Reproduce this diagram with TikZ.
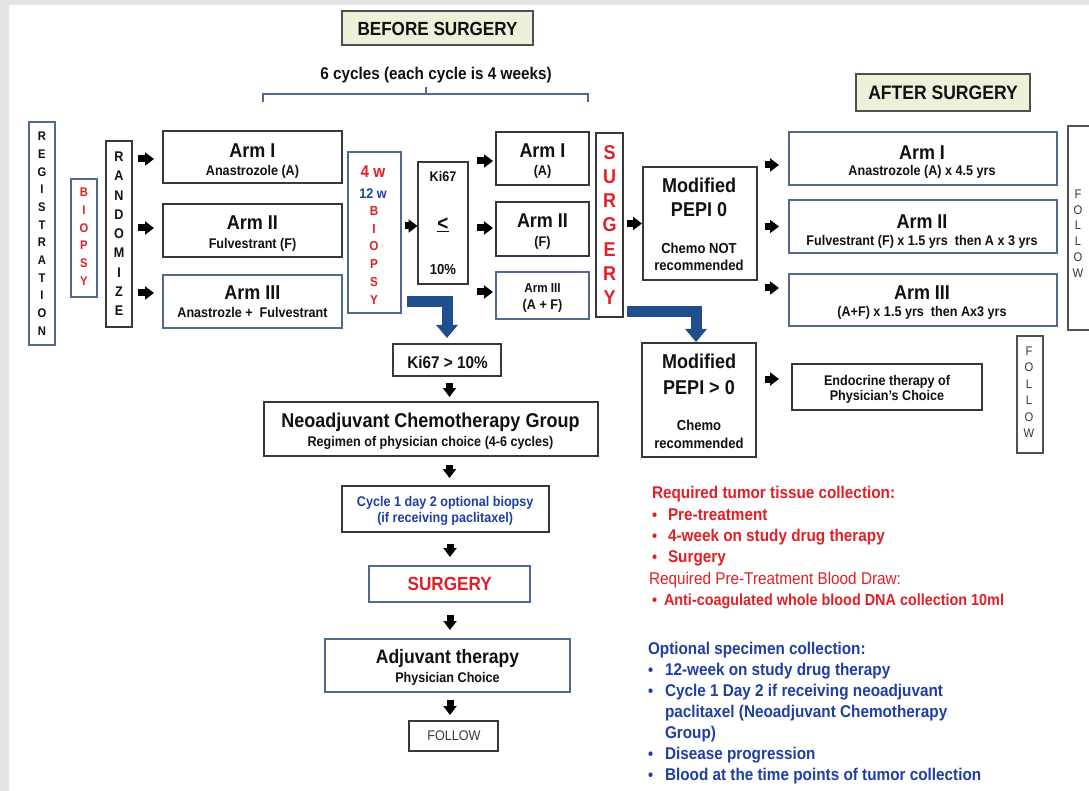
\documentclass[tikz,border=0pt]{standalone}
\usepackage{fontspec}
\setmainfont[FakeStretch=0.9]{Liberation Sans}
\usetikzlibrary{arrows.meta}
\definecolor{bkc}{HTML}{383838}
\definecolor{blc}{HTML}{52698F}
\definecolor{hdf}{HTML}{EEF0DA}
\definecolor{hdb}{HTML}{505050}
\definecolor{rd}{HTML}{E21F26}
\definecolor{bu}{HTML}{1F3FA3}
\definecolor{arb}{HTML}{1F4E8C}
\definecolor{gbg}{HTML}{E4E4E4}
\definecolor{tk}{HTML}{111111}
\newcommand\fsz[2]{\fontsize{#1}{#2}\selectfont}
\tikzset{
 bx/.style={draw=bkc, line width=1.4pt, inner sep=0pt, outer sep=0pt},
 bb/.style={bx, draw=blc},
 hd/.style={bx, draw=hdb, fill=hdf},
 tl/.style={inner sep=0pt, outer sep=0pt, anchor=base, text=tk},
 vs/.style={inner sep=0pt, outer sep=0pt, align=center, text=tk},
 ar/.style={draw=black, line width=7pt, -{Triangle[width=13pt,length=9pt]}},
 bigar/.style={draw=arb, line width=11pt, line join=miter, -{Triangle[width=21pt,length=13pt]}},
}
% centred line: name, x, baseline y, size, text, options
\newcommand\tline[6]{\node[tl,font=\bfseries\fsz{#4}{#4},#6] (#1) at (#2,#3) {#5};}
% left aligned line
\newcommand\tleft[6]{\node[tl,anchor=base west,font=\bfseries\fsz{#4}{#4},#6] (#1) at (#2,#3) {#5};}
\begin{document}
\begin{tikzpicture}[x=1pt,y=-1pt]
\fill[gbg] (0,0) rectangle (1089,791);
\fill[white] (9,5) rectangle (1089,791);
\useasboundingbox (0,0) rectangle (1089,791);

% headers
\node[hd, minimum width=191pt, minimum height=34pt] (hb) at (437.5,28) {};
\node[hd, minimum width=174pt, minimum height=37pt] (ha) at (943,92.5) {};
\tline{t1}{437.5}{35.5}{19}{BEFORE SURGERY}{}
\tline{t2}{943}{99.5}{19.5}{AFTER SURGERY}{}
\tline{t3}{436}{80}{17}{6 cycles (each cycle is 4 weeks)}{}
\draw[blc, line width=1.2pt] (263,102) -- (263,94) -- (588,94) -- (588,102);
\draw[blc, line width=1.2pt] (426,94) -- (426,87);

% boxes
\node[bb, minimum width=26pt, minimum height=223pt] (reg) at (42,233.5) {};
\node[bb, minimum width=26pt, minimum height=118pt] (bio) at (84,238) {};
\node[bx, minimum width=26pt, minimum height=186pt] (rnd) at (119,234) {};
\node[bx, minimum width=179pt, minimum height=52pt] (la) at (252.5,157) {};
\node[bx, minimum width=179pt, minimum height=53pt] (lb) at (252.5,230.5) {};
\node[bb, minimum width=179pt, minimum height=53pt] (lc) at (252.5,301.5) {};
\node[bb, minimum width=53pt, minimum height=161pt] (w4) at (374.5,232.5) {};
\node[bx, minimum width=50pt, minimum height=122pt] (ki) at (443,223) {};
\node[bx, minimum width=93pt, minimum height=53pt] (ma) at (542.5,158.5) {};
\node[bx, minimum width=93pt, minimum height=54pt] (mb) at (542.5,229) {};
\node[bb, minimum width=93pt, minimum height=47pt] (mc) at (542.5,295.5) {};
\node[bx, minimum width=27pt, minimum height=184pt] (sv) at (609.5,225) {};
\node[bx, minimum width=114pt, minimum height=113pt] (p0) at (700,223.5) {};
\node[bb, minimum width=268pt, minimum height=53pt] (ra) at (923,158.5) {};
\node[bb, minimum width=268pt, minimum height=53pt] (rb) at (923,226.5) {};
\node[bb, minimum width=268pt, minimum height=52pt] (rc) at (923,300) {};
\node[bx, draw=hdb, minimum width=26pt, minimum height=204pt] (fa) at (1081,228) {};
\node[bx, draw=hdb, minimum width=26pt, minimum height=117pt] (fb) at (1030,394.5) {};
\node[bx, minimum width=190pt, minimum height=46pt] (en) at (887,387) {};
\node[bx, minimum width=114pt, minimum height=114pt] (pg) at (699,400) {};
\node[bx, minimum width=108pt, minimum height=32pt] (kg) at (447,360) {};
\node[bx, minimum width=334pt, minimum height=54pt] (neo) at (431,429) {};
\node[bx, minimum width=207pt, minimum height=46pt] (cy) at (445.5,509) {};
\node[bb, minimum width=161pt, minimum height=36pt] (sb) at (449.5,584) {};
\node[bb, minimum width=245pt, minimum height=53pt] (adj) at (447.5,665.5) {};
\node[bx, minimum width=89pt, minimum height=30pt] (fo) at (453.5,736) {};

% vertical letter stacks
\node[vs, font=\bfseries\fsz{12.5}{17.65}] (t33) at (42,233.7) {R\\E\\G\\I\\S\\T\\R\\A\\T\\I\\O\\N};
\node[vs, text=rd, font=\bfseries\fsz{12.5}{17.7}] (t34) at (84,236.7) {B\\I\\O\\P\\S\\Y};
\node[vs, font=\bfseries\fsz{14}{19.25}] (t35) at (119,233.8) {R\\A\\N\\D\\O\\M\\I\\Z\\E};
\node[vs, text=rd, font=\bfseries\fsz{13}{17.7}] (t12) at (374,255.3) {B\\I\\O\\P\\S\\Y};
\node[vs, text=rd, font=\bfseries\fsz{20}{24.2}] (t22) at (609.5,224.9) {S\\U\\R\\G\\E\\R\\Y};
\node[vs, text=bkc, font=\fsz{12.5}{15.8}] (t36) at (1078,233.5) {F\\O\\L\\L\\O\\W};
\node[vs, text=bkc, font=\fsz{12.5}{16.5}] (t37) at (1029,392) {F\\O\\L\\L\\O\\W};

% left arms
\tline{t4}{252.5}{157.3}{20}{Arm I}{}
\tline{t5}{252.5}{175.3}{14}{Anastrozole (A)}{}
\tline{t6}{252.5}{229.9}{20}{Arm II}{}
\tline{t7}{252.5}{249}{14}{Fulvestrant (F)}{}
\tline{t8}{252.5}{299.9}{20}{Arm III}{}
\tline{t9}{252.5}{317.8}{14}{Anastrozle +\ \ Fulvestrant}{}
% 4w / 12w
\tline{t10}{373}{178}{17}{4 w}{text=rd}
\tline{t11}{373}{198.7}{14}{12 w}{text=bu}
% Ki67 <=
\tline{t13}{443}{181.7}{14}{Ki67}{}
\node[inner sep=0pt, text=tk, font=\bfseries\fsz{21}{21}] (t14) at (443,225) {\underline{<}};
\tline{t15}{443}{275}{14.5}{10\%}{}
% middle arms
\tline{t16}{542.5}{157.5}{20}{Arm I}{}
\tline{t17}{542.5}{176}{14}{(A)}{}
\tline{t18}{542.5}{227.5}{20}{Arm II}{}
\tline{t19}{542.5}{246.7}{14}{(F)}{}
\tline{t20}{542.5}{293}{13}{Arm III}{}
\tline{t21}{542.5}{310}{14}{(A + F)}{}
% PEPI 0
\tline{t23}{699}{192.7}{20}{Modified}{}
\tline{t24}{699}{216.7}{20}{PEPI 0}{}
\tline{t25}{699}{253.5}{14.5}{Chemo NOT}{}
\tline{t26}{699}{270.5}{14.5}{recommended}{}
% right arms
\tline{t27}{922}{159.3}{20}{Arm I}{}
\tline{t28}{922}{176}{14}{Anastrozole (A) x 4.5 yrs}{}
\tline{t29}{922}{228.3}{20}{Arm II}{}
\tline{t30}{922}{246}{14}{Fulvestrant (F) x 1.5 yrs\ \ then A x 3 yrs}{}
\tline{t31}{922}{300}{20}{Arm III}{}
\tline{t32}{922}{317}{14}{(A+F) x 1.5 yrs\ \ then Ax3 yrs}{}
% endocrine
\tline{t38}{887}{385}{14}{Endocrine therapy of}{}
\tline{t39}{887}{400.7}{14}{Physician's Choice}{}
% PEPI > 0
\tline{t40}{699}{368.3}{20}{Modified}{}
\tline{t41}{699}{394.3}{20}{PEPI > 0}{}
\tline{t42}{699}{430.7}{14.5}{Chemo}{}
\tline{t43}{699}{448.3}{14.5}{recommended}{}
% lower chain
\tline{t44}{447.5}{368.3}{17}{Ki67 > 10\%}{}
\tline{t45}{430.5}{427.3}{20}{Neoadjuvant Chemotherapy Group}{}
\tline{t46}{430.5}{446}{14}{Regimen of physician choice (4-6 cycles)}{}
\tline{t47}{445.2}{506}{14}{Cycle 1 day 2 optional biopsy}{text=bu}
\tline{t48}{445.2}{522.5}{14}{(if receiving paclitaxel)}{text=bu}
\tline{t49}{449.7}{590.7}{19}{SURGERY}{text=rd}
\tline{t50}{447.5}{663.3}{19.5}{Adjuvant therapy}{}
\tline{t51}{447.5}{682.3}{14}{Physician Choice}{}
\tline{t52}{454}{740.7}{14}{FOLLOW}{font=\fsz{14}{14}, text=bkc}

% collection notes
\tleft{r1}{652}{498.3}{17}{Required tumor tissue collection:}{text=rd}
\tleft{r2b}{652}{520}{16}{•}{text=rd}
\tleft{r2}{668}{520}{17}{Pre-treatment}{text=rd}
\tleft{r3b}{652}{541}{16}{•}{text=rd}
\tleft{r3}{668}{541}{17}{4-week on study drug therapy}{text=rd}
\tleft{r4b}{652}{562.3}{16}{•}{text=rd}
\tleft{r4}{668}{562.3}{17}{Surgery}{text=rd}
\tleft{r5}{649}{584}{17}{Required Pre-Treatment Blood Draw:}{font=\fsz{17}{17}, text=rd}
\tleft{r6b}{652}{605}{16}{•}{text=rd}
\tleft{r6}{664}{605}{16}{Anti-coagulated whole blood DNA collection 10ml}{text=rd}
\tleft{b1}{648}{654.5}{17}{Optional specimen collection:}{text=bu}
\tleft{b2b}{648}{675.7}{16}{•}{text=bu}
\tleft{b2}{665}{675.7}{17}{12-week on study drug therapy}{text=bu}
\tleft{b3b}{648}{696.7}{16}{•}{text=bu}
\tleft{b3}{665}{696.7}{17}{Cycle 1 Day 2 if receiving neoadjuvant}{text=bu}
\tleft{b4}{665}{717.7}{17}{paclitaxel (Neoadjuvant Chemotherapy}{text=bu}
\tleft{b5}{665}{738.3}{17}{Group)}{text=bu}
\tleft{b6b}{648}{759.3}{16}{•}{text=bu}
\tleft{b6}{665}{759.3}{17}{Disease progression}{text=bu}
\tleft{b7b}{648}{780.7}{16}{•}{text=bu}
\tleft{b7}{665}{780.7}{17}{Blood at the time points of tumor collection}{text=bu}

% small black arrows
\coordinate (ca) at ([yshift=-2pt]la.west);
\coordinate (cb) at ([yshift=2.5pt]lb.west);
\coordinate (cc) at ([yshift=8.5pt]lc.west);
\draw[ar, shorten <=6pt, shorten >=9pt] (rnd.east |- ca) -- (ca);
\draw[ar, shorten <=6pt, shorten >=9pt] (rnd.east |- cb) -- (cb);
\draw[ar, shorten <=6pt, shorten >=9pt] (rnd.east |- cc) -- (cc);
\coordinate (ck) at ([yshift=-3pt]ki.west);
\draw[ar, shorten <=4pt, shorten >=0.5pt] (w4.east |- ck) -- (ck);
\coordinate (cma) at ([yshift=-2.5pt]ma.west);
\coordinate (cmb) at ([yshift=1pt]mb.west);
\coordinate (cmc) at ([yshift=3.5pt]mc.west);
\draw[ar, shorten <=9pt, shorten >=3pt] (ki.east |- cma) -- (cma);
\draw[ar, shorten <=9pt, shorten >=3pt] (ki.east |- cmb) -- (cmb);
\draw[ar, shorten <=9pt, shorten >=3pt] (ki.east |- cmc) -- (cmc);
\draw[ar, shorten <=4pt, shorten >=1pt] (sv.east |- p0.west) -- (p0.west);
\coordinate (cra) at ([yshift=-6.5pt]ra.west);
\coordinate (crb) at (rb.west);
\coordinate (crc) at ([yshift=12pt]rc.west);
\draw[ar, shorten <=8pt, shorten >=10pt] (p0.east |- cra) -- (cra);
\draw[ar, shorten <=8pt, shorten >=10pt] (p0.east |- crb) -- (crb);
\draw[ar, shorten <=8pt, shorten >=10pt] (p0.east |- crc) -- (crc);
\coordinate (cen) at ([yshift=8pt]en.west);
\draw[ar, shorten <=9pt, shorten >=13pt] (pg.east |- cen) -- (cen);
% down arrows
\coordinate (d1) at ([xshift=2.5pt]kg.south);
\draw[ar, shorten <=7pt, shorten >=5pt] (d1) -- (d1 |- neo.north);
\coordinate (d2) at ([xshift=4pt]cy.north);
\draw[ar, shorten <=9pt, shorten >=8pt] (neo.south -| d2) -- (d2);
\coordinate (d3) at ([xshift=0.5pt]sb.north);
\draw[ar, shorten <=12pt, shorten >=9pt] (cy.south -| d3) -- (d3);
\coordinate (d4) at ([xshift=2.5pt]adj.north);
\draw[ar, shorten <=13pt, shorten >=9pt] (sb.south -| d4) -- (d4);
\coordinate (d5) at ([xshift=-3.5pt]fo.north);
\draw[ar, shorten <=8pt, shorten >=6pt] (adj.south -| d5) -- (d5);

% big blue elbow arrows
\coordinate (s1) at ([xshift=6pt,yshift=11pt]w4.south east);
\draw[bigar, shorten >=6pt] (s1) -| (kg.north);
\coordinate (s2) at ([xshift=4pt,yshift=5.5pt]sv.south east);
\coordinate (e2) at ([xshift=-3pt]pg.north);
\draw[bigar, shorten >=1pt] (s2) -| (e2);
\end{tikzpicture}
\end{document}
